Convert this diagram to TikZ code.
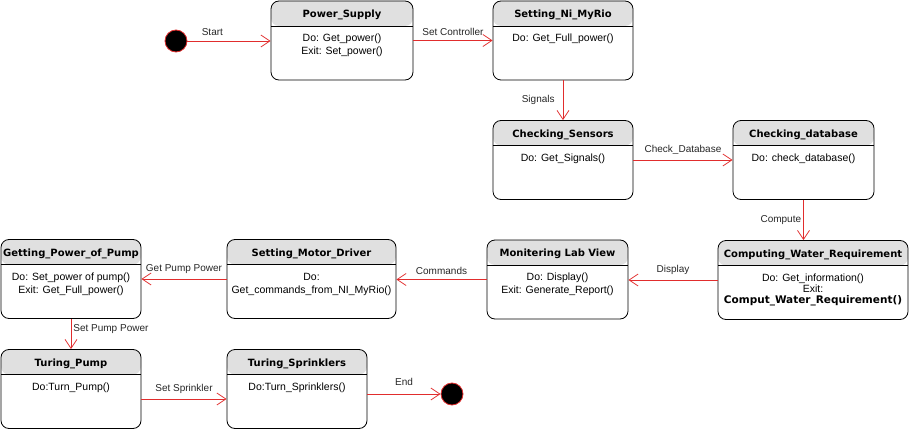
\documentclass[tikz,border=0pt]{standalone}
\usepackage{fontspec}
\setmainfont{Liberation Sans}
\newfontfamily\headfont{DejaVu Sans}
\usetikzlibrary{positioning,arrows.meta}
\definecolor{linered}{RGB}{225,45,45}
\definecolor{headgray}{RGB}{224,224,224}

\begin{document}
\begin{tikzpicture}[x=1pt,y=-1pt,
  statebox/.style={draw, rounded corners=8pt, minimum height=79pt, inner sep=0pt, line width=0.8pt,
    path picture={\fill[headgray] (path picture bounding box.north west) rectangle ([yshift=-25pt]path picture bounding box.north east);
      \draw[line width=0.8pt] ([yshift=-25pt]path picture bounding box.north west) -- ([yshift=-25pt]path picture bounding box.north east);}},
  titletext/.style={font=\headfont\bfseries\fontsize{10}{12}\selectfont, inner sep=0pt},
  bodytext/.style={font=\fontsize{10.5}{13}\selectfont, align=center, inner sep=0pt},
  flow/.style={draw=linered, line width=0.8pt, -{Straight Barb[length=9pt,width=12pt]}},
  lbl/.style={font=\fontsize{10}{12}\selectfont, text=black!85, inner sep=2pt},
  dot/.style={circle, fill=black, draw=linered, line width=0.8pt, minimum size=22pt, inner sep=0pt}]
\useasboundingbox (0,0) rectangle (909,433);

%Shape: Power_Supply
\node[statebox, minimum width=142pt] (ps) at (342,40.5) {};
\node[titletext] (ps-t) at ([yshift=-14.5pt]ps.north) {Power\_Supply};
\node[bodytext, below=33.5pt of ps.north] (ps-b) {Do: Get\_power()\\Exit: Set\_power()};
%Shape: Setting_Ni_MyRio
\node[statebox, minimum width=140pt] (snm) at (563,40.5) {};
\node[titletext] (snm-t) at ([yshift=-14.5pt]snm.north) {Setting\_Ni\_MyRio};
\node[bodytext, below=33.5pt of snm.north] (snm-b) {Do: Get\_Full\_power()};
%Shape: Checking_Sensors
\node[statebox, minimum width=140pt] (cs) at (563,160) {};
\node[titletext] (cs-t) at ([yshift=-14.5pt]cs.north) {Checking\_Sensors};
\node[bodytext, below=33.5pt of cs.north] (cs-b) {Do: Get\_Signals()};
%Shape: Checking_database
\node[statebox, minimum width=141pt] (cdb) at (803.5,160) {};
\node[titletext] (cdb-t) at ([yshift=-14.5pt]cdb.north) {Checking\_database};
\node[bodytext, below=33.5pt of cdb.north] (cdb-b) {Do: check\_database()};
%Shape: Computing_Water_Requirement
\node[statebox, minimum width=190pt] (cwr) at (813,280) {};
\node[titletext] (cwr-t) at ([yshift=-14.5pt]cwr.north) {Computing\_Water\_Requirement};
\node[bodytext, font=\fontsize{10.5}{11}\selectfont, below=34pt of cwr.north] (cwr-b) {Do: Get\_information()\\Exit:\\{\headfont\bfseries Comput\_Water\_Requirement()}};
%Shape: Monitering Lab View
\node[statebox, minimum width=141pt] (mlv) at (557.5,279.5) {};
\node[titletext] (mlv-t) at ([yshift=-14.5pt]mlv.north) {Monitering Lab View};
\node[bodytext, below=33.5pt of mlv.north] (mlv-b) {Do: Display()\\Exit: Generate\_Report()};
%Shape: Setting_Motor_Driver
\node[statebox, minimum width=169pt] (smd) at (311.5,279) {};
\node[titletext] (smd-t) at ([yshift=-14.5pt]smd.north) {Setting\_Motor\_Driver};
\node[bodytext, below=33.5pt of smd.north] (smd-b) {Do:\\Get\_commands\_from\_NI\_MyRio()};
%Shape: Getting_Power_of_Pump
\node[statebox, minimum width=140pt] (gpp) at (71,279) {};
\node[titletext] (gpp-t) at ([yshift=-14.5pt]gpp.north) {Getting\_Power\_of\_Pump};
\node[bodytext, below=33.5pt of gpp.north] (gpp-b) {Do: Set\_power of pump()\\Exit: Get\_Full\_power()};
%Shape: Turing_Pump
\node[statebox, minimum width=140pt] (tp) at (71,389) {};
\node[titletext] (tp-t) at ([yshift=-14.5pt]tp.north) {Turing\_Pump};
\node[bodytext, below=33.5pt of tp.north] (tp-b) {Do:Turn\_Pump()};
%Shape: Turing_Sprinklers
\node[statebox, minimum width=140pt] (tsp) at (297,389) {};
\node[titletext] (tsp-t) at ([yshift=-14.5pt]tsp.north) {Turing\_Sprinklers};
\node[bodytext, below=33.5pt of tsp.north] (tsp-b) {Do:Turn\_Sprinklers()};

%Start and end points
\node[dot] (start) at (176,41) {};
\node[dot] (fin) at (452,394) {};

%Straight Lines
\draw[flow] (start) -- (start -| ps.west) node[lbl, pos=0.3, above=3pt] {Start};
\draw[flow] (ps.east) -- (snm.west) node[lbl, midway, above=3pt] {Set Controller};
\draw[flow] (snm.south) -- (cs.north) node[lbl, midway, left=6pt] {Signals};
\draw[flow] (cs.east) -- (cdb.west) node[lbl, midway, above=3pt] {Check\_Database};
\draw[flow] (cdb.south) -- (cdb.south |- cwr.north) node[lbl, midway, left] {Compute};
\draw[flow] (cwr.west) -- (cwr.west -| mlv.east) node[lbl, midway, above=3pt] {Display};
\draw[flow] (mlv.west) -- (mlv.west -| smd.east) node[lbl, midway, above=3pt] {Commands};
\draw[flow] (smd.west) -- (smd.west -| gpp.east) node[lbl, midway, above=3pt] {Get Pump Power};
\draw[flow] (gpp.south) -- (tp.north) node[lbl, pos=0.35, right] {Set Pump Power};
\draw[flow] ([yshift=-10pt]tp.east) -- ([yshift=-10pt]tp.east -| tsp.west) node[lbl, midway, above=3pt] {Set Sprinkler};
\draw[flow] (fin -| tsp.east) -- (fin) node[lbl, midway, above=6pt] {End};

\end{tikzpicture}
\end{document}
